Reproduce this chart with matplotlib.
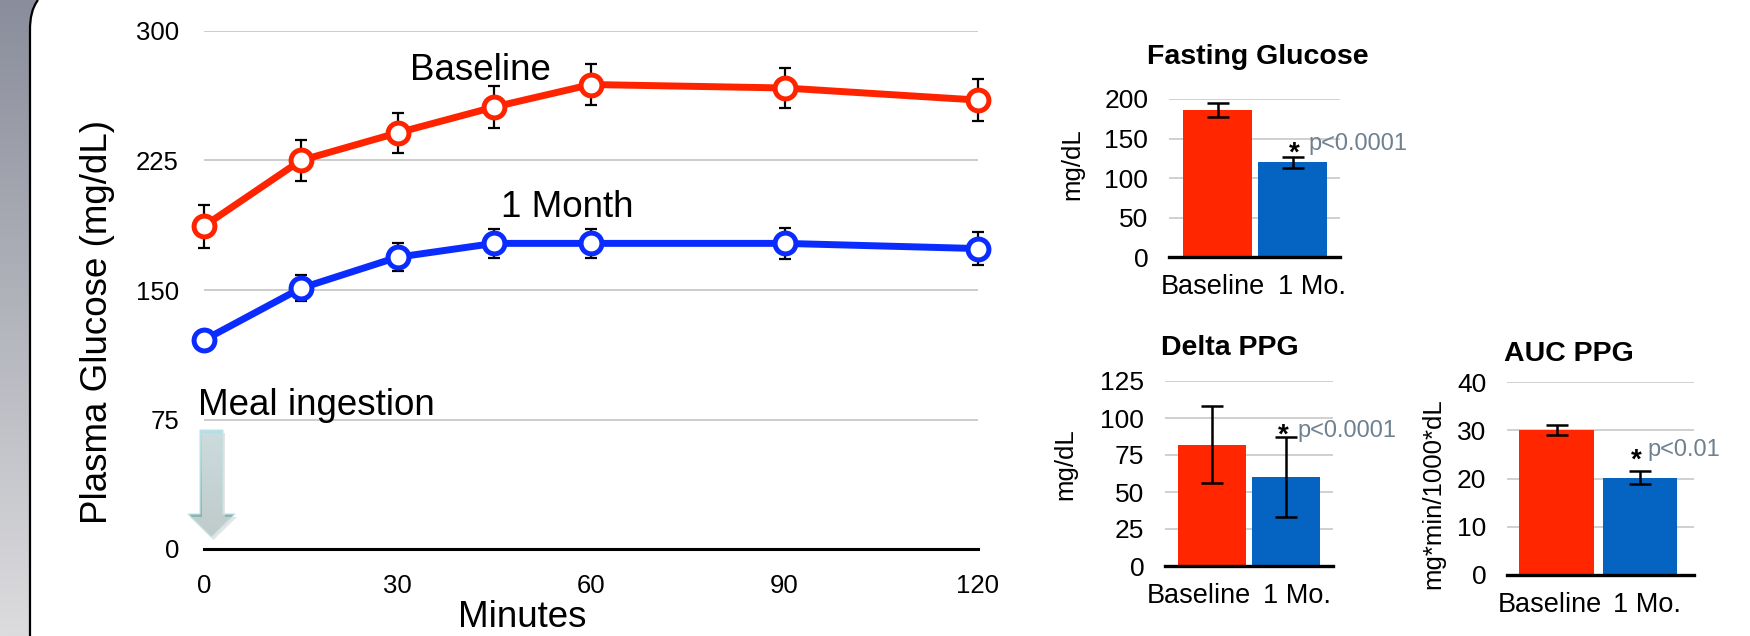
import numpy as np
import matplotlib
matplotlib.use("Agg")
import matplotlib.pyplot as plt
from matplotlib.colors import LinearSegmentedColormap
from matplotlib.path import Path
from matplotlib.patches import PathPatch, Polygon

plt.rcParams['font.family'] = ['Liberation Sans', 'DejaVu Sans']

# --- meal test curve ---
minutes = [0, 15, 30, 45, 60, 90, 120]
baseline = [187, 225, 241, 256, 269, 267, 260]
baseline_err = [12.5, 12, 11.5, 12, 12, 11.5, 12]
month1 = [121, 151, 169, 177, 177, 177, 174]
month1_err = [4, 7.5, 8, 8.5, 8.5, 9, 9.5]

# --- bar panels ---
groups = ['Baseline', '1 Mo.']
fasting = [186, 120]
fasting_err = [9, 7]
delta = [82, 60]
delta_err = [26, 27]
auc = [30.1, 20.2]
auc_err = [1.0, 1.3]

RED_LINE = '#ff2400'
BLUE_LINE = '#0a2cff'
RED_BAR = '#ff2600'
BLUE_BAR = '#0563c1'
P_GRAY = '#6f808f'
GRID = '#c8c8c8'

W, H = 1750, 636


def rect(x0, x1, y_top, y_bot):
    return [x0 / W, 1 - y_bot / H, (x1 - x0) / W, (y_bot - y_top) / H]


fig = plt.figure(figsize=(W / 100, H / 100), dpi=100)

# background: gray slide strip on the left + meal arrow (pixel coords)
bg = fig.add_axes([0, 0, 1, 1], zorder=-1)
bg.set_xlim(0, W)
bg.set_ylim(H, 0)
bg.axis('off')
strip = LinearSegmentedColormap.from_list('strip', ['#8a8d9b', '#dcdcde'])
bg.imshow(np.linspace(0, 1, 256).reshape(-1, 1), cmap=strip,
          extent=[0, 42, H, 0], aspect='auto')
edge = Path([(38, 0), (32, 8), (30, 18), (30, 30), (30, H)],
            [Path.MOVETO, Path.CURVE4, Path.CURVE4, Path.CURVE4, Path.LINETO])
cover = Path([(38, 0), (32, 8), (30, 18), (30, 30), (30, H), (44, H), (44, 0), (38, 0)],
             [Path.MOVETO, Path.CURVE4, Path.CURVE4, Path.CURVE4, Path.LINETO,
              Path.LINETO, Path.LINETO, Path.CLOSEPOLY])
bg.add_patch(PathPatch(cover, fc='white', ec='none'))
bg.add_patch(PathPatch(edge, fc='none', ec='black', lw=1.6))

arrow_pts = [(200, 430), (223, 430), (223, 514), (235, 514), (211.5, 537),
             (188, 514), (200, 514)]
shadow = Polygon([(x + 2, y + 3) for x, y in arrow_pts], closed=True,
                 fc='#d9d9d9', ec='none', alpha=0.7)
bg.add_patch(shadow)
arrow = Polygon(arrow_pts, closed=True, fc='none', ec='#c4e4e6', lw=0.8)
bg.add_patch(arrow)
arrow_cmap = LinearSegmentedColormap.from_list('arr', ['#b0e2e8', '#84a9a8'])
im = bg.imshow(np.linspace(0, 1, 256).reshape(-1, 1), cmap=arrow_cmap,
               extent=[186, 237, 538, 428], aspect='auto')
im.set_clip_path(arrow)

# --- main line chart ---
ax = fig.add_axes(rect(204, 978, 31, 549))
ax.set_facecolor('none')
for vals, errs, col in [(baseline, baseline_err, RED_LINE), (month1, month1_err, BLUE_LINE)]:
    eb = ax.errorbar(minutes, vals, yerr=errs, fmt='none', ecolor='black',
                     elinewidth=1.6, capsize=4, capthick=1.6, zorder=2)
    for a in list(eb.lines[1]) + list(eb.lines[2]):
        a.set_clip_on(False)
    ax.plot(minutes, vals, color=col, lw=5, marker='o', ms=15, mfc='white',
            mec=col, mew=3.6, zorder=3, clip_on=False)

ax.set_xlim(0, 120)
ax.set_ylim(0, 300)
ax.set_xticks([0, 30, 60, 90, 120])
ax.set_yticks([0, 75, 150, 225, 300])
ax.yaxis.grid(True, color=GRID, lw=1.3)
ax.set_axisbelow(True)
for s in ['left', 'right', 'top']:
    ax.spines[s].set_visible(False)
ax.spines['bottom'].set_linewidth(2.2)
ax.tick_params(axis='both', length=0, labelsize=18.5)
ax.tick_params(axis='y', pad=18)
ax.tick_params(axis='x', pad=18)
ax.set_ylabel('Plasma Glucose (mg/dL)', fontsize=26.5, va='center')
ax.yaxis.set_label_coords(-0.137, 0.438)
ax.set_xlabel('Minutes', fontsize=26.5, va='center')
ax.xaxis.set_label_coords(0.411, -0.133)

ax.text(42.8, 277, 'Baseline', fontsize=26.5, ha='center', va='center')
ax.text(56.3, 198, '1 Month', fontsize=26.5, ha='center', va='center')
ax.text(-0.9, 83, 'Meal ingestion', fontsize=26.5, ha='left', va='center')


def bar_panel(box, values, errs, ymax, step, ylabel, label_xy, xlim, width, label_x,
              title, title_px, star, ptext, p_pos):
    b = fig.add_axes(rect(*box))
    b.bar([0, 1], values, width=width, color=[RED_BAR, BLUE_BAR], zorder=2)
    b.errorbar([0, 1], values, yerr=errs, fmt='none', ecolor='black',
               elinewidth=1.8, capsize=8, capthick=1.8, zorder=3)
    b.set_xlim(*xlim)
    b.set_ylim(0, ymax)
    b.set_yticks(np.arange(0, ymax + step / 2, step))
    # category labels sit a little apart from the bar centres, as in the slide
    b.set_xticks(label_x)
    b.set_xticklabels(groups)
    b.yaxis.grid(True, color=GRID, lw=1.2)
    b.set_axisbelow(True)
    for s in ['left', 'right', 'top']:
        b.spines[s].set_visible(False)
    b.spines['bottom'].set_linewidth(2.4)
    b.spines['bottom'].set_zorder(4)
    b.tick_params(axis='y', length=0, labelsize=19, pad=15)
    b.tick_params(axis='x', length=0, labelsize=19.5, pad=12)
    b.set_ylabel(ylabel, fontsize=18.5, va='center')
    b.yaxis.set_label_coords(*label_xy)
    fig.text(title_px[0] / W, 1 - title_px[1] / H, title, fontsize=20.5,
             fontweight='bold', ha='center', va='center')
    b.text(star[0], star[1], '*', fontsize=20, fontweight='bold', ha='center', va='center')
    b.text(p_pos[0], p_pos[1], ptext, fontsize=17, color=P_GRAY, ha='left', va='center')
    return b


bar_panel((1169, 1340, 99, 257), fasting, fasting_err, 200, 50, 'mg/dL',
          (-0.567, 0.59), (-0.647, 1.633), 0.92, [-0.06, 1.26],
          'Fasting Glucose', (1258, 57), (1.02, 131), 'p<0.0001', (1.207, 143))
bar_panel((1165, 1333, 381, 566), delta, delta_err, 125, 25, 'mg/dL',
          (-0.595, 0.55), (-0.63, 1.64), 0.92, [-0.176, 1.16],
          'Delta PPG', (1230, 348), (0.97, 88), 'p<0.0001', (1.16, 91.5))
bar_panel((1507, 1694, 382, 575), auc, auc_err, 40, 10, 'mg*min/1000*dL',
          (-0.396, 0.42), (-0.6, 1.65), 0.9, [-0.09, 1.09],
          'AUC PPG', (1569, 354), (0.958, 23.8), 'p<0.01', (1.09, 25.9))

fig.savefig('out.png', dpi=100)
